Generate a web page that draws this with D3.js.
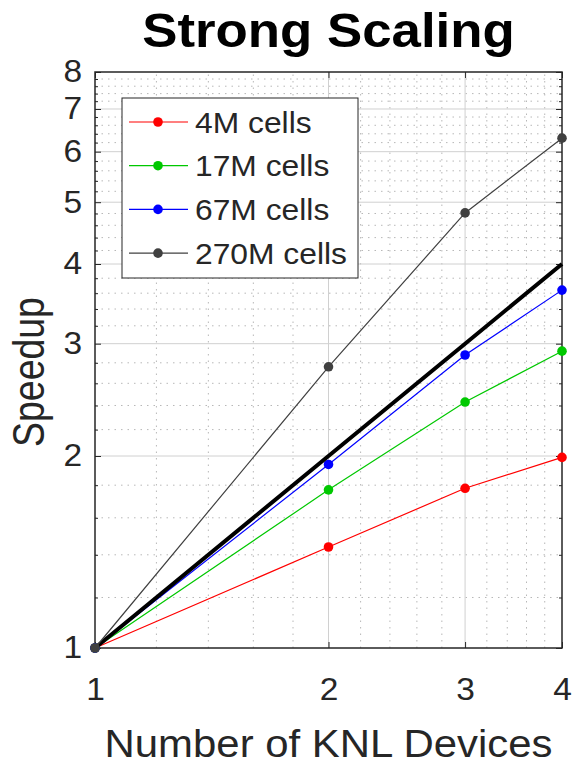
<!DOCTYPE html>
<html>
<head>
<meta charset="utf-8">
<script src="https://cdn.jsdelivr.net/npm/d3@7"></script>
<style>
  body { margin: 0; background: #fff; }
  text { font-family: "Liberation Sans", Arial, sans-serif; }
</style>
</head>
<body>
<svg id="drawing_region"></svg>
<script>
// chart data
const devices = [1, 2, 3, 4];
const seriesNames = ["4M cells", "17M cells", "67M cells", "270M cells"];
const speedup4M = [1, 1.44, 1.78, 1.99];
const speedup17M = [1, 1.77, 2.43, 2.92];
const speedup67M = [1, 1.94, 2.88, 3.64];
const speedup270M = [1, 2.76, 4.81, 6.30];
const idealSpeedup = [1, 2, 3, 4];
const xTicks = [1, 2, 3, 4];
const yTicks = [1, 2, 3, 4, 5, 6, 7, 8];
const seriesColors = ["#ff0000", "#00c800", "#0000ff", "#404040"];

const width = 572, height = 766;
const margin = {top: 72, right: 10, bottom: 118, left: 95};
const axisColor = "#262626";

const svg = d3.select("#drawing_region")
    .attr("width", width)
    .attr("height", height);

const x = d3.scaleLog().domain([1, 4]).range([margin.left, width - margin.right]);
const y = d3.scaleLog().domain([1, 8]).range([height - margin.bottom, margin.top]);

// minor positions between the major ticks, 0.2 apart
const minorX = [], minorY = [];
xTicks.slice(0, -1).forEach(t => { for (let k = 1; k <= 4; k++) minorX.push(t + k * 0.2); });
yTicks.slice(0, -1).forEach(t => { for (let k = 1; k <= 4; k++) minorY.push(t + k * 0.2); });

const grid = svg.append("g");
grid.selectAll(".mx").data(minorX).enter().append("line")
    .attr("x1", d => x(d)).attr("x2", d => x(d))
    .attr("y1", y(1)).attr("y2", y(8))
    .attr("stroke", "#b8b8b8").attr("stroke-width", 1)
    .attr("stroke-dasharray", "1.5,5");
grid.selectAll(".my").data(minorY).enter().append("line")
    .attr("x1", x(1)).attr("x2", x(4))
    .attr("y1", d => y(d)).attr("y2", d => y(d))
    .attr("stroke", "#b8b8b8").attr("stroke-width", 1)
    .attr("stroke-dasharray", "1.5,5");
grid.selectAll(".gx").data(xTicks.slice(1, -1)).enter().append("line")
    .attr("x1", d => x(d)).attr("x2", d => x(d))
    .attr("y1", y(1)).attr("y2", y(8))
    .attr("stroke", "#d0d0d0").attr("stroke-width", 1);
grid.selectAll(".gy").data(yTicks.slice(1, -1)).enter().append("line")
    .attr("x1", x(1)).attr("x2", x(4))
    .attr("y1", d => y(d)).attr("y2", d => y(d))
    .attr("stroke", "#d0d0d0").attr("stroke-width", 1);

// axes (ticks pointing inward)
const fmt = d3.format("d");
svg.append("g")
    .attr("transform", `translate(0,${y(1)})`)
    .call(d3.axisBottom(x).tickValues(xTicks).tickFormat(fmt).tickSizeInner(-6).tickSizeOuter(0).tickPadding(30));
svg.append("g")
    .attr("transform", `translate(${x(1)},0)`)
    .call(d3.axisLeft(y).tickValues(yTicks).tickFormat(fmt).tickSizeInner(-6).tickSizeOuter(0).tickPadding(12));
svg.append("g")
    .attr("transform", `translate(${x(4)},0)`)
    .call(d3.axisRight(y).tickValues(yTicks).tickFormat("").tickSizeInner(-6).tickSizeOuter(0));
svg.append("g")
    .attr("transform", `translate(0,${y(8)})`)
    .call(d3.axisTop(x).tickValues(xTicks).tickFormat("").tickSizeInner(-6).tickSizeOuter(0));
svg.append("g")
    .attr("transform", `translate(${x(1)},0)`)
    .call(d3.axisLeft(y).tickValues(minorY).tickFormat("").tickSizeInner(-3).tickSizeOuter(0));
svg.append("g")
    .attr("transform", `translate(${x(4)},0)`)
    .call(d3.axisRight(y).tickValues(minorY).tickFormat("").tickSizeInner(-3).tickSizeOuter(0));

svg.selectAll(".domain").attr("stroke", "none");
svg.selectAll(".tick line").attr("stroke", axisColor).attr("stroke-width", 1);
svg.selectAll(".tick text")
    .attr("fill", axisColor)
    .attr("transform", "scale(1.08,1)")
    .style("font-size", "31px");

svg.append("rect")
    .attr("x", x(1)).attr("y", y(8))
    .attr("width", x(4) - x(1)).attr("height", y(1) - y(8))
    .attr("fill", "none").attr("stroke", axisColor).attr("stroke-width", 1.5);

// lines
const line = d3.line()
    .x((d, i) => x(devices[i]))
    .y(d => y(d));
const allSeries = [speedup4M, speedup17M, speedup67M, speedup270M];

function drawSeries(values, color) {
    svg.append("path")
        .datum(values)
        .attr("d", line)
        .attr("fill", "none")
        .attr("stroke", color)
        .attr("stroke-width", 1.2);
    svg.selectAll(null)
        .data(values)
        .enter()
        .append("circle")
        .attr("cx", (d, i) => x(devices[i]))
        .attr("cy", d => y(d))
        .attr("r", 4.8)
        .attr("fill", color);
}

drawSeries(allSeries[0], seriesColors[0]);
drawSeries(allSeries[1], seriesColors[1]);
drawSeries(allSeries[2], seriesColors[2]);
svg.append("path")
    .datum(idealSpeedup)
    .attr("d", line)
    .attr("fill", "none")
    .attr("stroke", "#000")
    .attr("stroke-width", 4);
drawSeries(allSeries[3], seriesColors[3]);

// legend
const legend = svg.append("g").attr("transform", "translate(122,98)");
legend.append("rect")
    .attr("width", 236).attr("height", 180)
    .attr("fill", "#fff").attr("stroke", axisColor).attr("stroke-width", 1);
const rows = legend.selectAll(".row")
    .data(seriesNames)
    .enter()
    .append("g")
    .attr("transform", (d, i) => `translate(0,${24 + i * 43.7})`);
rows.append("line")
    .attr("x1", 7).attr("x2", 66)
    .attr("stroke", (d, i) => seriesColors[i]).attr("stroke-width", 1.2);
rows.append("circle")
    .attr("cx", 36).attr("r", 4.8)
    .attr("fill", (d, i) => seriesColors[i]);
rows.append("text")
    .attr("transform", "translate(73,0) scale(1.06,1)")
    .attr("dy", "0.35em")
    .attr("fill", axisColor)
    .style("font-size", "30px")
    .text(d => d);

// titles
svg.append("text")
    .attr("transform", `translate(${(x(1) + x(4)) / 2},47) scale(1.1,1)`)
    .attr("text-anchor", "middle")
    .style("font-size", "48px").style("font-weight", "bold")
    .attr("fill", "#000")
    .text("Strong Scaling");
svg.append("text")
    .attr("transform", `translate(${(x(1) + x(4)) / 2},757) scale(1.075,1)`)
    .attr("text-anchor", "middle")
    .style("font-size", "39px")
    .attr("fill", axisColor)
    .text("Number of KNL Devices");
svg.append("text")
    .attr("transform", `translate(44,${(y(1) + y(8)) / 2 + 12}) rotate(-90) scale(0.96,1.12)`)
    .attr("text-anchor", "middle")
    .style("font-size", "39px")
    .attr("fill", axisColor)
    .text("Speedup");
</script>
</body>
</html>
